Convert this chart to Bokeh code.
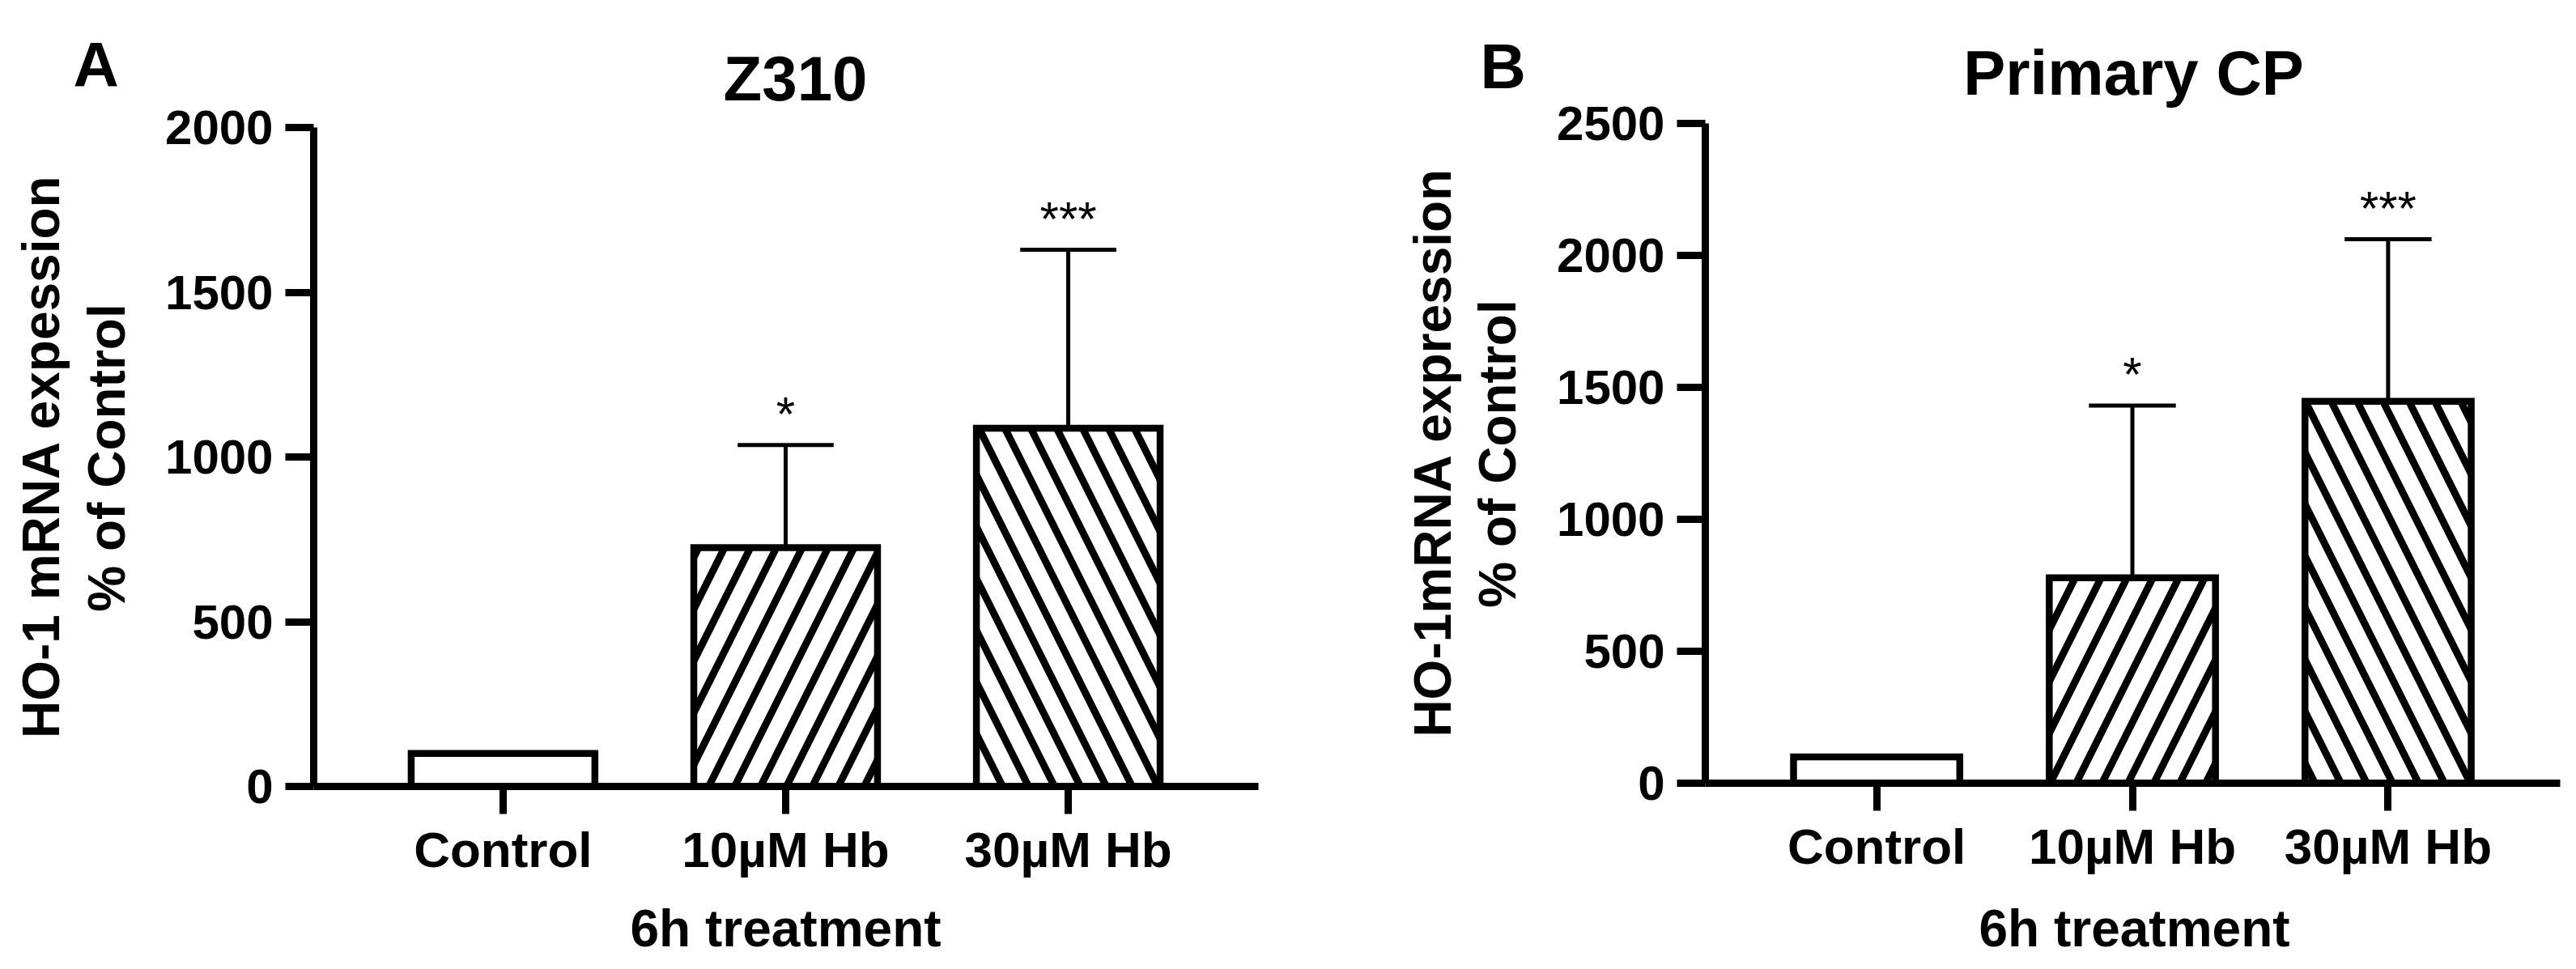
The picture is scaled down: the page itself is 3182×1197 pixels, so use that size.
import math
from bokeh.plotting import figure
from bokeh.layouts import row
from bokeh.models import Range1d, FixedTicker, Label, ColumnDataSource
from bokeh.embed import file_html
from bokeh.resources import INLINE
from bokeh.core.properties import value

# ---------------- data ----------------
categories = ["Control", "10µM Hb", "30µM Hb"]
x_axis_title = "6h treatment"

z310_title = "Z310"
z310_ylabel = ["HO-1 mRNA expession", "% of Control"]
z310_mean = [100, 725, 1087]
z310_err = [0, 311, 542]
z310_sig = ["", "*", "***"]
z310_yticks = [0, 500, 1000, 1500, 2000]

cp_title = "Primary CP"
cp_ylabel = ["HO-1mRNA expression", "% of Control"]
cp_mean = [100, 778, 1447]
cp_err = [0, 653, 614]
cp_sig = ["", "*", "***"]
cp_yticks = [0, 500, 1000, 1500, 2000, 2500]

# ---------------- style / layout ----------------
FONT = "Liberation Sans"
HATCH = [" ", "/", "\\"]
H = 1195          # figure height (page y 0 .. H)
X_LO, X_HI = -0.67, 2.673   # category-axis extent (data units)


def panel(letter, title, ylab, means, errs, sig, yticks, fig_left, W, area, pos):
    """area = (left, right, top, bottom) of the axes rectangle in page pixels."""
    aL, aR, aT, aB = area
    xppu = (aR - aL) / (X_HI - X_LO)
    yppu = (aB - aT) / (yticks[-1] - yticks[0])
    x_range = Range1d(X_LO - (aL - fig_left) / xppu, X_HI + (fig_left + W - aR) / xppu)
    y_range = Range1d(-(H - aB) / yppu, yticks[-1] + aT / yppu)

    p = figure(width=W, height=H, x_range=x_range, y_range=y_range,
               output_backend="svg", toolbar_location=None,
               min_border=0, min_border_left=0, min_border_right=0,
               min_border_top=0, min_border_bottom=0,
               background_fill_color="white", border_fill_color="white",
               outline_line_color=None)
    p.grid.visible = False

    xs = list(range(len(categories)))
    src = ColumnDataSource(dict(x=xs, top=means,
                                upper=[m + e for m, e in zip(means, errs)],
                                hatch=HATCH, sig=sig))
    ex = [x for x, e in zip(xs, errs) if e > 0]
    eb = [m for m, e in zip(means, errs) if e > 0]
    eu = [m + e for m, e in zip(means, errs) if e > 0]
    esrc = ColumnDataSource(dict(x=ex, top=eb, upper=eu,
                                 cl=[x - 0.17 for x in ex], cr=[x + 0.17 for x in ex]))
    p.segment(x0="x", y0="top", x1="x", y1="upper", source=esrc,
              line_color="black", line_width=5)
    p.segment(x0="cl", y0="upper", x1="cr", y1="upper", source=esrc,
              line_color="black", line_width=5)
    p.vbar(x="x", top="top", bottom=0, width=0.65, source=src,
           fill_color="white", line_color="black", line_width=8.5,
           line_join="miter",
           hatch_pattern="hatch", hatch_color="black", hatch_weight=9, hatch_scale=64)
    p.text(x="x", y="upper", text="sig", source=src, y_offset=-38,
           text_align="center", text_baseline="alphabetic",
           text_font=value(FONT), text_font_size="60px", text_color="black")

    yax = p.yaxis[0]
    yax.ticker = FixedTicker(ticks=yticks)
    yax.fixed_location = X_LO
    yax.bounds = (yticks[0], yticks[-1])
    xax = p.xaxis[0]
    xax.ticker = FixedTicker(ticks=xs)
    xax.major_label_overrides = {i: c for i, c in enumerate(categories)}
    xax.fixed_location = 0
    xax.bounds = (X_LO, X_HI)
    for ax in (yax, xax):
        ax.axis_line_width = 9
        ax.axis_line_color = "black"
        ax.major_tick_line_width = 9
        ax.major_tick_line_color = "black"
        ax.major_tick_in = 0
        ax.minor_tick_line_color = None
        ax.major_label_text_font = FONT
        ax.major_label_text_font_style = "bold"
        ax.major_label_text_color = "black"
    yax.major_tick_out = 35
    yax.major_label_text_font_size = "60px"
    yax.major_label_standoff = 15
    xax.major_tick_out = 34
    xax.major_label_text_font_size = "62px"
    xax.major_label_standoff = 9

    def lab(px, py, text, size, angle=0.0, align="left"):
        # page pixel position (middle of the capitals) -> screen units of this figure
        p.add_layout(Label(x=px - fig_left, y=H - py,
                           x_units="screen", y_units="screen", text=text,
                           angle=angle, text_align=align, text_baseline="middle",
                           text_font=FONT, text_font_size=size,
                           text_font_style="bold", text_color="black"))

    lab(*pos["letter"], letter, "78px")
    lab(*pos["title"], title, "78px", align="center")
    lab(*pos["yl1"], ylab[0], "64px", angle=math.pi / 2, align="center")
    lab(*pos["yl2"], ylab[1], "64px", angle=math.pi / 2, align="center")
    lab(*pos["xl"], x_axis_title, "64px", align="center")
    return p


pA = panel("A", z310_title, z310_ylabel, z310_mean, z310_err, z310_sig, z310_yticks,
           fig_left=0, W=1591, area=(387, 1554, 157, 971),
           pos=dict(letter=(90, 79), title=(982, 96),
                    yl1=(50, 563), yl2=(131, 565), xl=(970, 1146)))

pB = panel("B", cp_title, cp_ylabel, cp_mean, cp_err, cp_sig, cp_yticks,
           fig_left=1591, W=1589, area=(2106, 3162, 152, 967),
           pos=dict(letter=(1828, 81), title=(2635, 89),
                    yl1=(1769, 558), yl2=(1849, 560), xl=(2636, 1146)))

layout = row(pA, pB)
open("out.html", "w").write(file_html(layout, INLINE))
